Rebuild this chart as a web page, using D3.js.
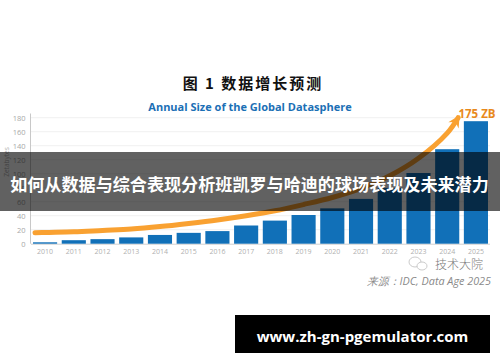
<!DOCTYPE html>
<html>
<head>
<meta charset="utf-8">
<script src="https://cdn.jsdelivr.net/npm/d3@7"></script>
<style>
  html, body { margin: 0; padding: 0; background: #fff; }
  svg { display: block; }
</style>
</head>
<body>
<div id="chart"></div>
<script>
// Annual size of the global datasphere (ZB)
const years = ["2010", "2011", "2012", "2013", "2014", "2015", "2016", "2017",
  "2018", "2019", "2020", "2021", "2022", "2023", "2024", "2025"];
const zettabytes = [2, 5, 6.5, 9, 12.5, 15.5, 18, 26, 33, 41, 50.5, 64, 79.5, 101, 135, 175];
const yTicks = [0, 20, 40, 60, 80, 100, 120, 140, 160, 180];

// decorative trend arrow (year position, value)
const trendYears = [2009.65, 2010, 2011, 2012, 2013, 2014, 2015, 2016, 2017, 2018,
  2019, 2020, 2021, 2022, 2023, 2024, 2024.38];
const trendValues = [15.5, 16, 17, 19, 21, 24.5, 29, 34, 40, 47, 56, 66, 79, 97, 122, 158, 180];

const W = 500, H = 362;
const blue = "#1170b8", orange = "#f9a131";

const svg = d3.select("#chart").append("svg")
  .attr("width", W)
  .attr("height", H);

// Titles
svg.append("text")
  .attr("x", 253).attr("y", 89)
  .attr("text-anchor", "middle")
  .attr("font-family", "Noto Sans CJK SC")
  .attr("font-size", "15px")
  .attr("font-weight", "bold")
  .attr("letter-spacing", "2px")
  .attr("fill", "#111")
  .text("图 1  数据增长预测");

svg.append("text")
  .attr("x", 250).attr("y", 111)
  .attr("text-anchor", "middle")
  .attr("font-family", "Open Sans")
  .attr("font-size", "11px")
  .attr("font-weight", "bold")
  .attr("fill", "#1b6fb5")
  .text("Annual Size of the Global Datasphere");

// Scales
const x = d3.scaleBand()
  .domain(years)
  .range([31, 490])
  .paddingInner(0.16)
  .paddingOuter(0.07);

const y = d3.scaleLinear()
  .domain([0, 180])
  .range([243.7, 117.7]);

const xYear = d3.scaleLinear()
  .domain([2010, 2025])
  .range([x("2010") + x.bandwidth() / 2, x("2025") + x.bandwidth() / 2]);

// Grid
svg.append("g")
  .selectAll("line")
  .data(yTicks.slice(1))
  .join("line")
  .attr("x1", 31).attr("x2", 490)
  .attr("y1", d => y(d)).attr("y2", d => y(d))
  .attr("stroke", "#f0f0f0")
  .attr("stroke-width", 1);

// Y axis
const yAxis = svg.append("g")
  .attr("transform", "translate(30.5,0)")
  .call(d3.axisLeft(y).tickValues(yTicks).tickSize(0).tickPadding(5));
yAxis.select(".domain").attr("stroke", "#c8c8c8").attr("d", `M0,${y(0)}V${y(186)}`);
yAxis.selectAll("text")
  .attr("font-family", "Open Sans")
  .attr("font-size", "7.5px")
  .attr("fill", "#a8a8a8");

svg.append("text")
  .attr("transform", "translate(9,162) rotate(-90)")
  .attr("text-anchor", "middle")
  .attr("font-family", "Open Sans")
  .attr("font-size", "6.5px")
  .attr("fill", "#b0b0b0")
  .text("Zetabytes");

// X axis
const xAxis = svg.append("g")
  .attr("transform", `translate(0,${y(0)})`)
  .call(d3.axisBottom(x).tickSize(0).tickPadding(5));
xAxis.select(".domain").attr("stroke", "#d0d0d0").attr("d", "M31,0.5H490");
xAxis.selectAll("text")
  .attr("font-family", "Open Sans")
  .attr("font-size", "7px")
  .attr("fill", "#b0b0b0");

// Bars
svg.append("g")
  .selectAll("rect")
  .data(years)
  .join("rect")
  .attr("x", d => x(d))
  .attr("width", x.bandwidth())
  .attr("y", (d, i) => y(zettabytes[i]))
  .attr("height", (d, i) => y(0) - y(zettabytes[i]))
  .attr("fill", blue);

// Trend arrow
const defs = svg.append("defs");
defs.append("marker")
  .attr("id", "head")
  .attr("viewBox", "-12 -7 14 14")
  .attr("refX", -2).attr("refY", 0)
  .attr("markerWidth", 14).attr("markerHeight", 14)
  .attr("markerUnits", "userSpaceOnUse")
  .attr("orient", "auto")
  .append("path")
  .attr("d", "M1,0 L-11,-6 L-7,0 L-11,6 Z")
  .attr("fill", orange);

const trend = trendYears.map((yr, i) => [yr, trendValues[i]]);
svg.append("path")
  .datum(trend)
  .attr("fill", "none")
  .attr("stroke", orange)
  .attr("stroke-width", 5)
  .attr("stroke-linecap", "round")
  .attr("marker-end", "url(#head)")
  .attr("d", d3.line()
    .x(d => xYear(d[0]))
    .y(d => y(d[1]))
    .curve(d3.curveCatmullRom));

svg.append("text")
  .attr("x", 477).attr("y", 117.5)
  .attr("text-anchor", "middle")
  .attr("font-family", "Open Sans")
  .attr("font-size", "11.5px")
  .attr("font-weight", "bold")
  .attr("fill", "#e8891c")
  .text("175 ZB");

// Watermark and source
const wx = svg.append("g").attr("transform", "translate(418,264)")
  .attr("fill", "none").attr("stroke", "#c4c4c4").attr("stroke-width", 0.9);
wx.append("ellipse").attr("cx", -3).attr("cy", -2).attr("rx", 6).attr("ry", 5);
wx.append("ellipse").attr("cx", 4).attr("cy", 2).attr("rx", 5).attr("ry", 4).attr("fill", "#fff");

svg.append("text")
  .attr("x", 483).attr("y", 269)
  .attr("text-anchor", "end")
  .attr("font-family", "Noto Sans CJK SC")
  .attr("font-size", "12px")
  .attr("font-weight", "300")
  .attr("fill", "#7a7a7a")
  .text("技术大院");

svg.append("text")
  .attr("x", 491).attr("y", 285)
  .attr("text-anchor", "end")
  .attr("font-family", "Open Sans")
  .attr("font-size", "10.8px")
  .attr("font-style", "italic")
  .attr("fill", "#8a8a8a")
  .text("来源：IDC, Data Age 2025");

// Overlay banner
svg.append("rect")
  .attr("x", 0).attr("y", 152)
  .attr("width", W).attr("height", 59)
  .attr("fill", "#000")
  .attr("fill-opacity", 0.62);

svg.append("text")
  .attr("x", 249.5).attr("y", 191)
  .attr("text-anchor", "middle")
  .attr("font-family", "Noto Sans CJK SC")
  .attr("font-size", "17.1px")
  .attr("font-weight", "bold")
  .attr("fill", "#fff")
  .text("如何从数据与综合表现分析班凯罗与哈迪的球场表现及未来潜力");

// Bottom URL box
svg.append("rect")
  .attr("x", 235).attr("y", 315)
  .attr("width", 255).attr("height", 38)
  .attr("fill", "#000");

svg.append("text")
  .attr("x", 362.5).attr("y", 342)
  .attr("text-anchor", "middle")
  .attr("font-family", "Open Sans")
  .attr("font-size", "15px")
  .attr("font-weight", "bold")
  .attr("fill", "#fff")
  .text("www.zh-gn-pgemulator.com");
</script>
</body>
</html>
